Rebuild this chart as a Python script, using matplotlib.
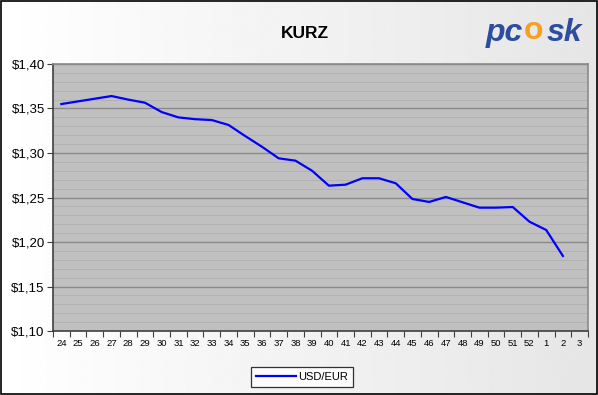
import numpy as np
import matplotlib.pyplot as plt
from matplotlib.ticker import FixedLocator, FuncFormatter

weeks = [str(w) for w in range(24, 53)] + ['1', '2', '3']
usd_eur = [1.355, 1.358, 1.361, 1.364, 1.360, 1.3565, 1.346, 1.340, 1.338, 1.337,
           1.3315, 1.319, 1.307, 1.294, 1.2914, 1.280, 1.2633, 1.2644, 1.2716, 1.2716,
           1.266, 1.2483, 1.245, 1.2506, 1.2446, 1.2386, 1.2386, 1.2393, 1.2228, 1.2135,
           1.1843]
y_ticks = [1.10, 1.15, 1.20, 1.25, 1.30, 1.35, 1.40]

plt.rcParams['font.family'] = ['Liberation Sans', 'DejaVu Sans']

fig = plt.figure(figsize=(5.98, 3.95), dpi=100)

# pozadí s přechodem
bg = fig.add_axes([0, 0, 1, 1])
grad = np.linspace(1.0, 0.90, 256).reshape(1, -1)
bg.imshow(grad, aspect='auto', cmap='gray', vmin=0, vmax=1, extent=[0, 1, 0, 1])
bg.set_xlim(0, 1)
bg.set_ylim(0, 1)
bg.axis('off')
fig.patches.append(plt.Rectangle((0.001, 0.002), 0.997, 0.996, transform=fig.transFigure,
                                 fill=False, edgecolor='black', linewidth=1.2, zorder=10))

ax = fig.add_axes([53 / 598, 64 / 395, 535 / 598, 267 / 395])
ax.set_facecolor('#C0C0C0')

x = np.arange(len(usd_eur))
ax.plot(x, usd_eur, color='#0000FF', linewidth=1.6, label='USD/EUR', zorder=3)

ax.set_xlim(-0.5, len(weeks) - 0.5)
ax.set_ylim(1.10, 1.40)

# osa y
ax.set_yticks(y_ticks)
ax.yaxis.set_major_formatter(FuncFormatter(lambda v, p: ('$%.2f' % v).replace('.', ',')))
ax.yaxis.set_minor_locator(FixedLocator(np.arange(1.11, 1.40, 0.01)))
ax.grid(axis='y', which='major', color='#8A8A8A', linewidth=1.0, zorder=1)
ax.grid(axis='y', which='minor', color='#B0B0B0', linewidth=0.6, zorder=1)
ax.tick_params(axis='y', which='major', labelsize=9.5, length=4, color='#404040', pad=2)
ax.tick_params(axis='y', which='minor', length=0)

# osa x - značky mezi kategoriemi
ax.set_xticks(np.arange(-0.5, len(weeks), 1.0))
ax.set_xticklabels([])
ax.set_xticks(np.arange(len(weeks)), minor=True)
ax.set_xticklabels(weeks, minor=True)
ax.tick_params(axis='x', which='major', length=4, color='#404040')
ax.tick_params(axis='x', which='minor', length=0, labelsize=6.8, pad=6)

for side in ['left', 'bottom']:
    ax.spines[side].set_color('#404040')
    ax.spines[side].set_linewidth(1.2)
for side in ['top', 'right']:
    ax.spines[side].set_color('#8A8A8A')
    ax.spines[side].set_linewidth(1.2)

fig.text(305 / 598, 1 - 33 / 395, 'KURZ', ha='center', va='center',
         fontsize=12.5, fontweight='bold')

# logo
fig.text(486 / 598, 1 - 33 / 395, 'pc', ha='left', va='center', fontsize=23,
         fontweight='bold', fontstyle='italic', color='#2D4E9E')
fig.text(524 / 598, 1 - 31 / 395, 'o', ha='left', va='center', fontsize=23,
         fontweight='bold', color='#F5A020')
fig.text(547 / 598, 1 - 33 / 395, 'sk', ha='left', va='center', fontsize=23,
         fontweight='bold', fontstyle='italic', color='#2D4E9E')

leg = ax.legend(loc='center', bbox_to_anchor=(302 / 598, 1 - 377 / 395),
                bbox_transform=fig.transFigure, frameon=True, fancybox=False,
                fontsize=8, handlelength=3.6, borderpad=0.45, handletextpad=0.2)
leg.get_frame().set_edgecolor('black')
leg.get_frame().set_linewidth(0.9)
leg.get_frame().set_facecolor('white')

fig.savefig('out.png', dpi=100)
